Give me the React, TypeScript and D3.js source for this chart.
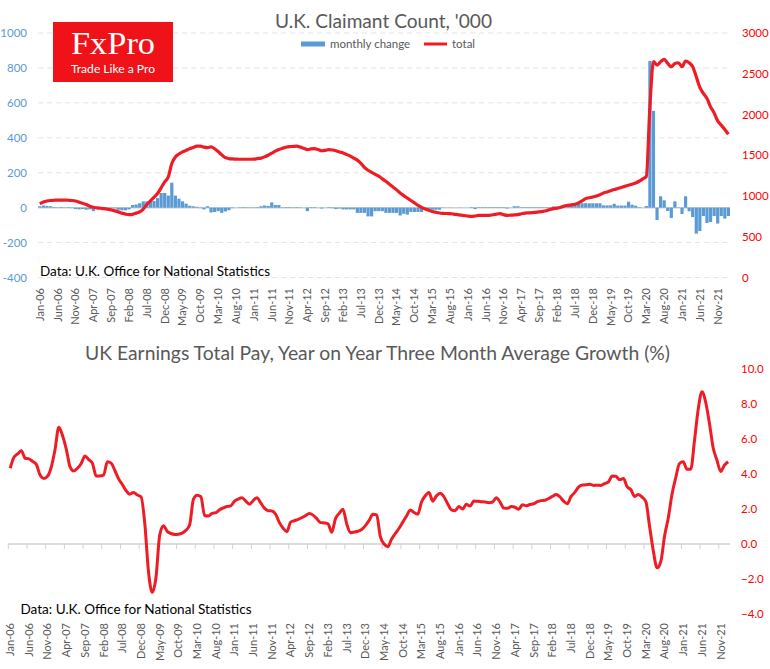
import * as d3 from "d3";

// months Jan-06 .. Feb-22 (claimant count); earnings runs to Jan-22
const months = d3.timeMonth.range(new Date(2006, 0, 1), new Date(2022, 2, 1));
const earnMonths = months.slice(0, 193);
const fmt = d3.timeFormat("%b-%y");

// claimant count total, '000
const claimantTotal = [
  905, 925, 938, 945, 948, 950, 950, 950, 948, 945, 938, 925,
  912, 895, 875, 862, 855, 850, 845, 838, 830, 818, 805, 790,
  778, 771, 775, 790, 805, 840, 895, 940, 985, 1030, 1100, 1172,
  1233, 1398, 1479, 1515, 1541, 1560, 1580, 1594, 1612, 1612, 1600, 1594,
  1602, 1580, 1545, 1505, 1470, 1459, 1455, 1452, 1451, 1451, 1451, 1451,
  1452, 1459, 1465, 1480, 1500, 1525, 1550, 1570, 1585, 1598, 1605, 1608,
  1611, 1600, 1585, 1570, 1578, 1582, 1570, 1555, 1560, 1570, 1565, 1555,
  1540, 1528, 1510, 1490, 1465, 1440, 1400, 1350, 1316, 1290, 1266, 1245,
  1210, 1180, 1145, 1110, 1075, 1037, 1005, 975, 945, 915, 885, 860,
  840, 824, 810, 800, 791, 787, 785, 783, 778, 772, 766, 760,
  754, 750, 755, 762, 762, 762, 762, 770, 778, 783, 770, 762,
  765, 768, 771, 782, 791, 793, 795, 800, 805, 811, 820, 835,
  845, 852, 862, 877, 885, 892, 898, 915, 940, 968, 978, 988,
  1000, 1015, 1037, 1050, 1065, 1079, 1092, 1105, 1118, 1132, 1145, 1160,
  1181, 1210, 1240, 2097, 2648, 2607, 2648, 2676, 2627, 2586, 2627, 2635,
  2586, 2656, 2635, 2586, 2463, 2332, 2258, 2197, 2094, 2020, 1922, 1869,
  1815, 1758,
];

// monthly change, '000
const claimantChange = [
  8, 12, 10, 8, 3, 2, 4, 2, 3, -3, -8, -10,
  -8, -12, -10, -20, -3, -2, -4, -3, -2, -4, -12, -15,
  -15, -10, 15, 18, 25, 36, 36, 36, 38, 55, 84, 84,
  69, 143, 69, 51, 36, 23, 11, 8, 5, -3, -10, 8,
  -28, -25, -20, -30, -22, -15, -3, 0, 2, 3, 2, 2,
  2, 3, 8, 12, 10, 30, 15, 15, 2, 3, 3, 2,
  3, 2, 0, -20, 3, 3, 0, -5, 0, 3, -3, -8,
  -5, -10, -10, -10, -10, -30, -30, -30, -50, -50, -20, -20,
  -20, -30, -30, -30, -30, -45, -35, -40, -25, -25, -25, -25,
  -12, -12, -12, -12, -12, -1, 0, -1, 0, 0, -1, 0,
  0, 3, -8, 3, 3, 3, 3, 3, 3, 3, 3, -5,
  0, 8, 8, 3, 3, 3, 3, 3, 3, 3, 3, 3,
  7, 5, 8, 10, 12, 15, 25, 25, 25, 25, 25, 25,
  25, 25, 13, 13, 13, 22, 12, 12, 12, 34, 17, 11,
  3, 0, 9, 840, 554, -71, 65, 42, -19, -59, 36, 2,
  -36, 65, -21, -54, -149, -134, -48, -88, -82, -48, -91, -48,
  -63, -48,
];

// total pay, y/y 3m avg growth %
const earningsGrowth = [
  4.33, 4.95, 5.15, 5.33, 4.9, 4.86, 4.72, 4.55, 3.94, 3.75, 3.87, 4.4,
  5.4, 6.67, 6.2, 5.42, 4.42, 4.17, 4.33, 4.6, 5.03, 4.82, 4.61, 3.89,
  3.89, 3.95, 4.7, 4.62, 4.2, 3.72, 3.4, 3.05, 2.85, 2.95, 2.8, 2.7,
  1.18, -1.6, -2.76, -1.9, 0.52, 1.05, 0.72, 0.6, 0.55, 0.56, 0.62, 0.78,
  1.1, 2.55, 2.78, 2.7, 1.63, 1.6, 1.75, 1.79, 1.96, 2.06, 2.14, 2.18,
  2.45, 2.57, 2.65, 2.45, 2.27, 2.48, 2.65, 2.35, 2.05, 1.9, 1.89, 1.7,
  1.22, 0.9, 0.7, 1.25, 1.33, 1.41, 1.5, 1.62, 1.75, 1.65, 1.45, 1.22,
  1.2, 1.15, 0.67, 1.45, 1.75, 1.98, 1.15, 0.65, 0.68, 0.73, 0.83, 1.05,
  1.35, 1.7, 1.66, 0.42, 0.0, -0.15, 0.28, 0.6, 0.9, 1.25, 1.6, 1.95,
  1.8, 1.7, 2.4, 2.75, 2.95, 2.45, 2.75, 2.9, 2.7, 2.3, 1.95, 1.9,
  2.15, 2.0, 2.27, 2.17, 2.45, 2.45, 2.42, 2.4, 2.36, 2.4, 2.64, 2.4,
  2.05, 2.04, 2.14, 2.1, 1.98, 2.25, 2.18, 2.26, 2.3, 2.42, 2.48, 2.5,
  2.6, 2.72, 2.83, 2.7, 2.45, 2.3, 2.72, 2.95, 3.25, 3.37, 3.38, 3.42,
  3.35, 3.36, 3.35, 3.45, 3.55, 3.88, 3.87, 3.67, 3.74, 3.27, 3.1, 2.72,
  2.83, 2.68, 2.42, 1.0, -0.4, -1.36, -1.0, 0.45, 1.5, 2.85, 3.8, 4.6,
  4.7, 4.27, 4.27, 5.9, 7.7, 8.7, 8.1, 6.9, 5.5, 4.8, 4.15, 4.5, 4.7,
];

const leftTicks = [-400, -200, 0, 200, 400, 600, 800, 1000];
const rightTicks = [0, 500, 1000, 1500, 2000, 2500, 3000];
const earnTicks = [-4, -2, 0, 2, 4, 6, 8, 10];

const RED = "#EE1C25";
const BLUE = "#5B9BD5";
const GREY = "#595959";
const FONT = "Lato, 'Open Sans', sans-serif";

const Logo = () => (
  <g>
    <rect x={53} y={22} width={120} height={60} fill="#F01219" />
    <text x={113} y={54} textAnchor="middle" fill="#fff"
      fontFamily="'Liberation Serif', 'DejaVu Serif', serif" fontSize={31}
      textLength={84} lengthAdjust="spacingAndGlyphs">FxPro</text>
    <text x={113} y={73} textAnchor="middle" fill="#fff" fontFamily={FONT}
      fontSize={12} textLength={84} lengthAdjust="spacingAndGlyphs">Trade Like a Pro</text>
  </g>
);

const ClaimantChart = () => {
  const x = d3.scaleBand<Date>().domain(months).range([38.2, 730]).paddingInner(0.1);
  const yL = d3.scaleLinear().domain([-400, 1000]).range([277.5, 33]);
  const yR = d3.scaleLinear().domain([0, 3000]).range([277.5, 33]);
  const cx = (d: Date) => (x(d) ?? 0) + x.bandwidth() / 2;

  const line = d3.line<number>()
    .x((_, i) => cx(months[i]))
    .y((d) => yR(d))
    .curve(d3.curveMonotoneX);

  return (
    <g fontFamily={FONT}>
      <text x={275} y={28} fill={GREY} fontSize={19.5} textLength={217}
        lengthAdjust="spacingAndGlyphs">U.K. Claimant Count, '000</text>

      {/* legend */}
      <rect x={301} y={41.5} width={24} height={5} fill={BLUE} />
      <text x={330} y={48} fill={GREY} fontSize={11.5}>monthly change</text>
      <line x1={424} x2={447} y1={44} y2={44} stroke={RED} strokeWidth={3} />
      <text x={452} y={48} fill={GREY} fontSize={11.5}>total</text>

      {leftTicks.filter((t) => t !== 0).map((t) => (
        <line key={t} x1={38.2} x2={730} y1={yL(t)} y2={yL(t)}
          stroke="#E3E3E3" strokeDasharray="5,4" />
      ))}
      <line x1={38.2} x2={730} y1={yL(0)} y2={yL(0)} stroke="#D0D0D0" strokeWidth={1.5} />

      {claimantChange.map((v, i) => (
        <rect key={i} x={x(months[i])} width={x.bandwidth()}
          y={Math.min(yL(v), yL(0))} height={Math.abs(yL(v) - yL(0))} fill={BLUE} />
      ))}

      <path d={line(claimantTotal) ?? ""} fill="none" stroke={RED} strokeWidth={3.2}
        strokeLinejoin="round" />

      {leftTicks.map((t) => (
        <text key={t} x={27} y={yL(t)} dy="0.35em" textAnchor="end" fill={BLUE}
          fontSize={11.5}>{t}</text>
      ))}
      {rightTicks.map((t) => (
        <text key={t} x={742} y={yR(t)} dy="0.35em" fill="#FF0000" fontSize={11.5}>{t}</text>
      ))}

      {months.filter((_, i) => i % 5 === 0).map((m) => (
        <text key={+m} transform={`translate(${cx(m)},288) rotate(-90)`} dy="0.35em"
          textAnchor="end" fill={GREY} fontSize={11}>{fmt(m)}</text>
      ))}

      <text x={40} y={276} fill="#000" fontSize={14} textLength={230}
        lengthAdjust="spacingAndGlyphs">Data: U.K. Office for National Statistics</text>
    </g>
  );
};

const EarningsChart = () => {
  const x = d3.scaleBand<Date>().domain(earnMonths).range([8.3, 730]);
  const y = d3.scaleLinear().domain([-4, 10]).range([614, 369]);
  const cx = (d: Date) => (x(d) ?? 0) + x.bandwidth() / 2;

  const line = d3.line<number>()
    .x((_, i) => cx(earnMonths[i]))
    .y((d) => y(d))
    .curve(d3.curveMonotoneX);

  const tickMonths = earnMonths.filter((_, i) => i % 5 === 0);

  return (
    <g fontFamily={FONT}>
      <text x={85} y={360} fill={GREY} fontSize={19.5} textLength={585}
        lengthAdjust="spacingAndGlyphs">UK Earnings Total Pay, Year on Year Three Month Average Growth (%)</text>

      <line x1={8.3} x2={730} y1={y(0)} y2={y(0)} stroke="#D0D0D0" strokeWidth={1.5} />
      {tickMonths.map((m) => (
        <line key={+m} x1={x(m)} x2={x(m)} y1={y(0)} y2={y(0) + 5} stroke="#D0D0D0" strokeWidth={1} />
      ))}

      <path d={line(earningsGrowth) ?? ""} fill="none" stroke={RED} strokeWidth={3}
        strokeLinejoin="round" />

      {earnTicks.map((t) => (
        <text key={t} x={741} y={y(t)} dy="0.35em" fill="#FF0000" fontSize={11.5}>
          {d3.format(".1f")(t)}
        </text>
      ))}

      {tickMonths.map((m) => (
        <text key={+m} transform={`translate(${cx(m)},623) rotate(-90)`} dy="0.35em"
          textAnchor="end" fill={GREY} fontSize={11}>{fmt(m)}</text>
      ))}

      <text x={20.5} y={614} fill="#000" fontSize={14} textLength={231}
        lengthAdjust="spacingAndGlyphs">Data: U.K. Office for National Statistics</text>
    </g>
  );
};

export default function App() {
  return (
    <svg width={770} height={669} style={{ position: "absolute", left: 0, top: 0, background: "#fff" }}>
      <rect width={770} height={669} fill="#fff" />
      <ClaimantChart />
      <Logo />
      <EarningsChart />
    </svg>
  );
}
